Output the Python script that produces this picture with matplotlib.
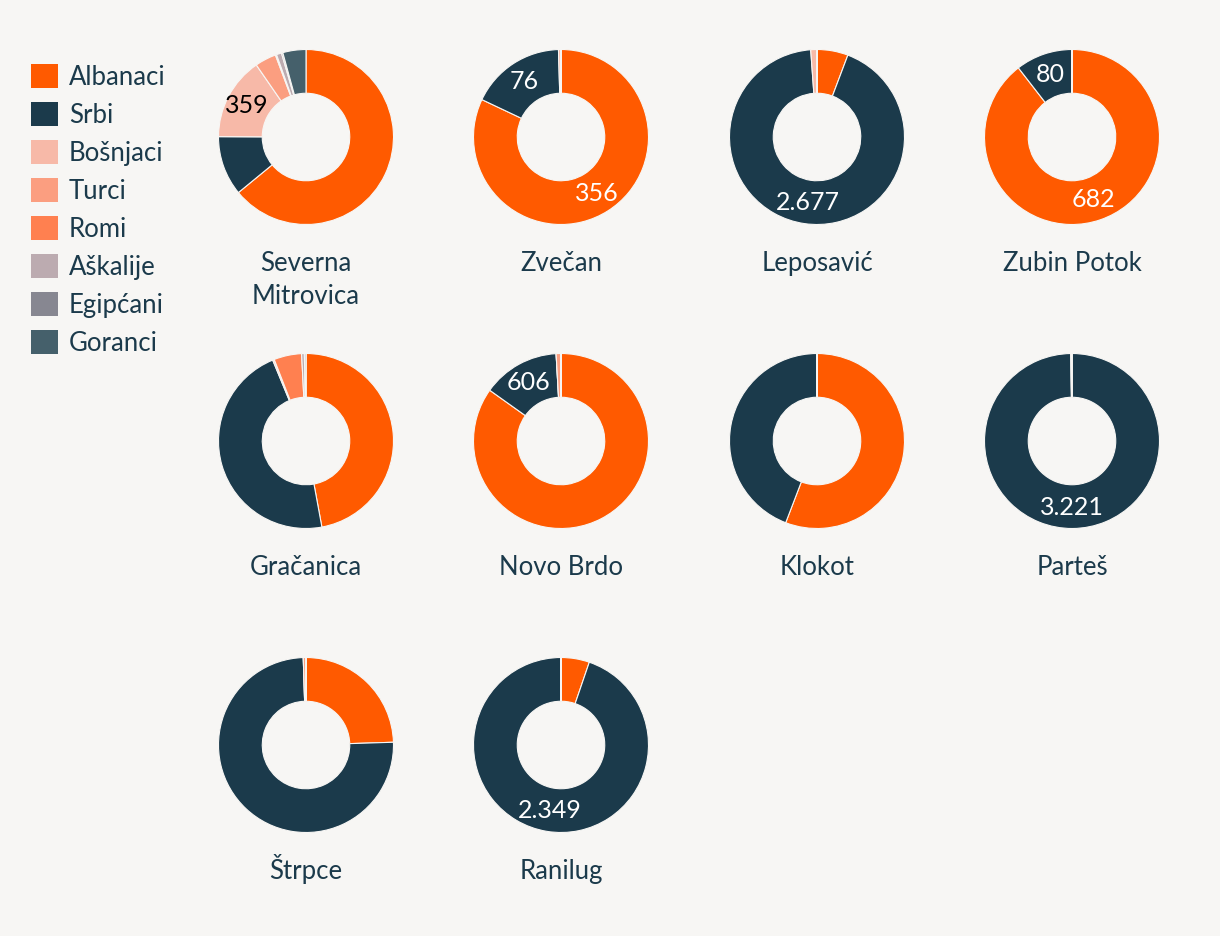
import matplotlib
matplotlib.use("Agg")
import matplotlib.pyplot as plt
from matplotlib.patches import Patch
import numpy as np

# categories and colours
categories = ["Albanaci", "Srbi", "Bošnjaci", "Turci", "Romi", "Aškalije", "Egipćani", "Goranci"]
colors = ["#ff5a00", "#1b3a4b", "#f7b9a8", "#fb9e80", "#ff8050", "#bcabb0", "#878791", "#45606b"]

municipalities = ["Severna\nMitrovica", "Zvečan", "Leposavić", "Zubin Potok",
                  "Gračanica", "Novo Brdo", "Klokot", "Parteš",
                  "Štrpce", "Ranilug"]

# counts per municipality, order as categories
severna_mitrovica = [1500, 258, 359, 92, 5, 22, 6, 100]
zvecan = [356, 76, 2, 0, 0, 0, 0, 0]
leposavic = [165, 2677, 33, 0, 0, 0, 0, 0]
zubin_potok = [682, 80, 0, 0, 0, 0, 0, 0]
gracanica = [470, 466, 3, 0, 51, 5, 3, 0]
novo_brdo = [3606, 606, 0, 38, 0, 0, 0, 0]
klokot = [1390, 1100, 0, 0, 0, 0, 0, 0]
partes = [0, 3221, 0, 0, 6, 0, 0, 0]
strpce = [245, 750, 0, 5, 0, 0, 0, 0]
ranilug = [130, 2349, 0, 0, 0, 0, 0, 0]

values = [severna_mitrovica, zvecan, leposavic, zubin_potok,
          gracanica, novo_brdo, klokot, partes, strpce, ranilug]

# which slices get a number (municipality index, category index)
shown_labels = [(0, 2), (1, 0), (1, 1), (2, 1), (3, 0), (3, 1), (5, 1), (7, 1), (9, 1)]

bg = "#f7f6f4"
text_col = "#1b3a4b"
plt.rcParams['font.family'] = ['Lato', 'DejaVu Sans']

W, H = 1220, 936
fig = plt.figure(figsize=(W / 100, H / 100), dpi=100)
fig.patch.set_facecolor(bg)

col_x = [306, 561, 817, 1072]
row_y = [137, 441, 745]
R = 87.5

for i, (name, vals) in enumerate(zip(municipalities, values)):
    cx = col_x[i % 4]
    cy = row_y[i // 4]
    ax = fig.add_axes([(cx - R) / W, 1 - (cy + R) / H, 2 * R / W, 2 * R / H])
    wedges, _ = ax.pie(vals, colors=colors, startangle=90, counterclock=False, radius=1,
                       wedgeprops=dict(width=0.5, edgecolor=bg, linewidth=0.8))
    ax.set_xlim(-1, 1)
    ax.set_ylim(-1, 1)
    ax.axis("off")
    for (m, c) in shown_labels:
        if m != i:
            continue
        w = wedges[c]
        mid = np.deg2rad((w.theta1 + w.theta2) / 2)
        lab = f"{vals[c]:,}".replace(",", ".")
        tc = "black" if c == 2 else "white"
        ax.text(0.76 * np.cos(mid), 0.76 * np.sin(mid), lab, ha="center", va="center",
                fontsize=18, color=tc)
    # municipality name under the donut, one text per line
    for k, line in enumerate(name.split("\n")):
        fig.text(cx / W, 1 - (cy + 134 + k * 33.3) / H, line, ha="center", va="baseline",
                 fontsize=18.5, color=text_col)

handles = [Patch(facecolor=c, edgecolor="none") for c in colors]
fig.legend(handles, categories, loc="upper left", bbox_to_anchor=(21 / W, 1 - 54 / H),
           frameon=False, fontsize=18.5, handlelength=1.05, handleheight=1.05,
           handletextpad=0.42, labelspacing=0.48, labelcolor=text_col, borderaxespad=0)

fig.savefig("out.png", dpi=100, facecolor=bg)
